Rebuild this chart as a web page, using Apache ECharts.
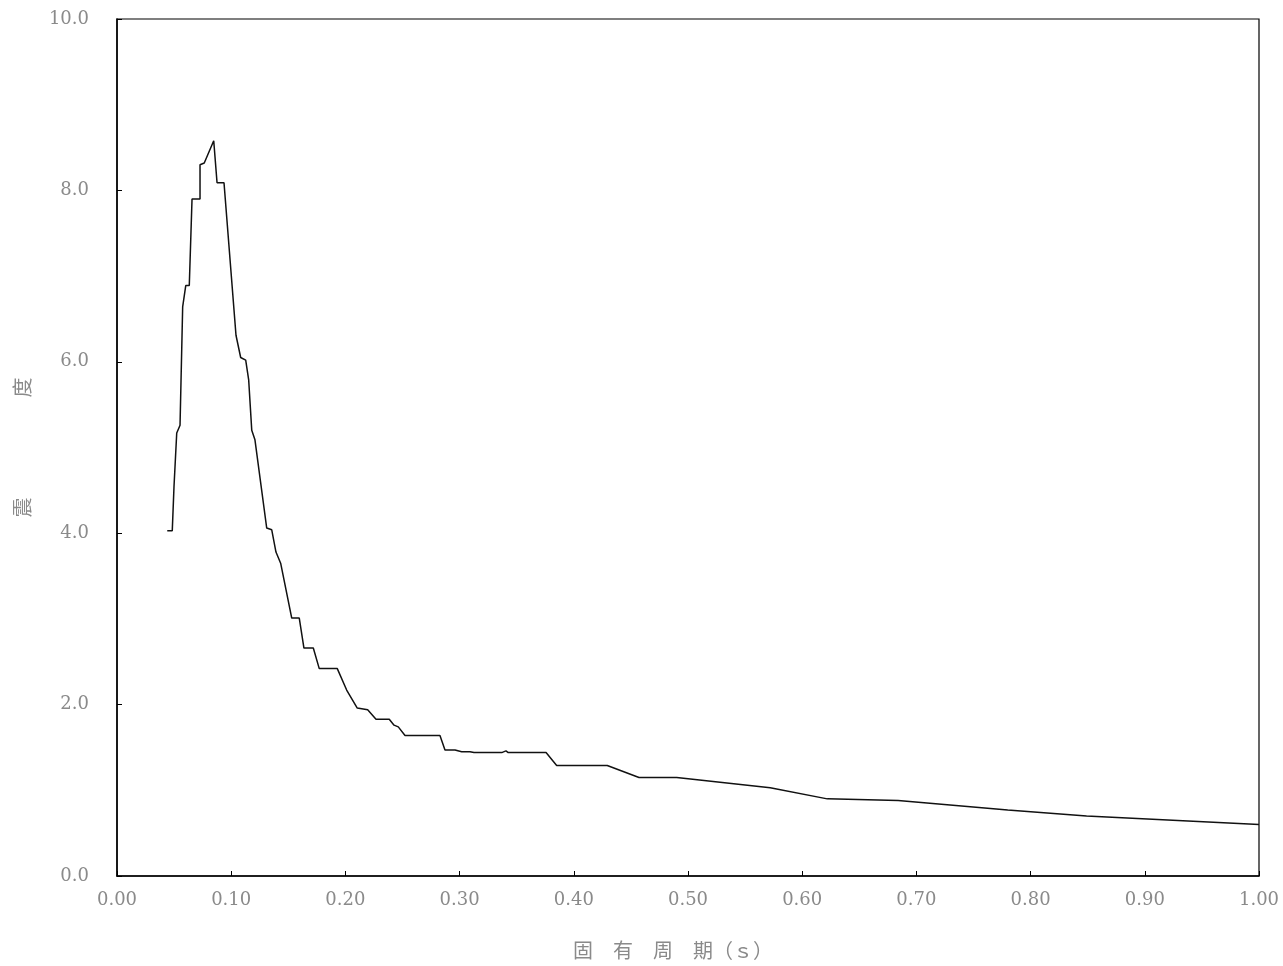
<!DOCTYPE html>
<html>
<head>
<meta charset="utf-8">
<script src="https://cdn.jsdelivr.net/npm/echarts@6/dist/echarts.min.js"></script>
<style>
html,body{margin:0;padding:0;background:#fff;}
#main{width:1283px;height:966px;}
</style>
</head>
<body>
<div id="main"></div>
<script>
// 固有周期 (s)
var periods = [0.044, 0.0484, 0.0499, 0.0523, 0.0552, 0.0575, 0.0602, 0.0633, 0.0657, 0.0727,
  0.0727, 0.0764, 0.0847, 0.0876, 0.0937, 0.1042, 0.1083, 0.1127, 0.1153, 0.1180,
  0.1208, 0.1311, 0.1355, 0.1392, 0.1433, 0.1530, 0.1596, 0.1637, 0.1719, 0.1771,
  0.1929, 0.2011, 0.2104, 0.2195, 0.2268, 0.2384, 0.2426, 0.2463, 0.2522, 0.2828,
  0.2872, 0.2960, 0.3018, 0.3091, 0.3126, 0.3369, 0.3406, 0.3426, 0.3757, 0.3850,
  0.4293, 0.4571, 0.4901, 0.572, 0.622, 0.684, 0.780, 0.849, 1.0];
// 震度
var intensity = [4.03, 4.03, 4.54, 5.17, 5.26, 6.64, 6.89, 6.89, 7.90, 7.90,
  8.30, 8.32, 8.58, 8.09, 8.09, 6.31, 6.05, 6.02, 5.79, 5.20,
  5.09, 4.06, 4.04, 3.78, 3.65, 3.01, 3.01, 2.66, 2.66, 2.42,
  2.42, 2.17, 1.96, 1.94, 1.83, 1.83, 1.76, 1.74, 1.64, 1.64,
  1.47, 1.47, 1.45, 1.45, 1.44, 1.44, 1.46, 1.44, 1.44, 1.29,
  1.29, 1.15, 1.15, 1.03, 0.90, 0.88, 0.77, 0.70, 0.60];

var pts = [];
for (var i = 0; i < periods.length; i++) {
  pts.push([periods[i], intensity[i]]);
}

var labelFont = {color: '#8a8a8a', fontFamily: 'DejaVu Serif', fontSize: 18};
var nameFont = {color: '#8a8a8a', fontFamily: 'Noto Sans CJK SC', fontSize: 20};

var myChart = echarts.init(document.getElementById('main'));
var option = {
  backgroundColor: '#fff',
  animation: false,
  grid: {
    left: 117, right: 24, top: 19, bottom: 90,
    show: true, borderColor: '#000', borderWidth: 1.2
  },
  xAxis: {
    type: 'value',
    min: 0, max: 1, interval: 0.1,
    name: '固\u3000有\u3000周\u3000期（ｓ）',
    nameLocation: 'middle',
    nameGap: 64,
    nameTextStyle: Object.assign({padding: [0, 30, 0, 0]}, nameFont),
    axisLine: {lineStyle: {color: '#000', width: 1.5}},
    axisTick: {inside: true, length: 5, lineStyle: {color: '#000'}},
    axisLabel: Object.assign({margin: 15, formatter: function (v) { return v.toFixed(2); }}, labelFont),
    splitLine: {show: false}
  },
  yAxis: {
    type: 'value',
    min: 0, max: 10, interval: 2,
    name: '震\u3000\u3000\u3000\u3000\u3000度',
    nameLocation: 'middle',
    nameRotate: 90,
    nameGap: 85,
    nameTextStyle: nameFont,
    axisLine: {show: true, lineStyle: {color: '#000', width: 1.5}},
    axisTick: {show: true, inside: true, length: 5, lineStyle: {color: '#000'}},
    axisLabel: Object.assign({margin: 28, formatter: function (v) { return v.toFixed(1); }}, labelFont),
    splitLine: {show: false}
  },
  series: [{
    type: 'line',
    data: pts,
    showSymbol: false,
    lineStyle: {color: '#111', width: 1.5}
  }]
};
myChart.setOption(option);
</script>
</body>
</html>
